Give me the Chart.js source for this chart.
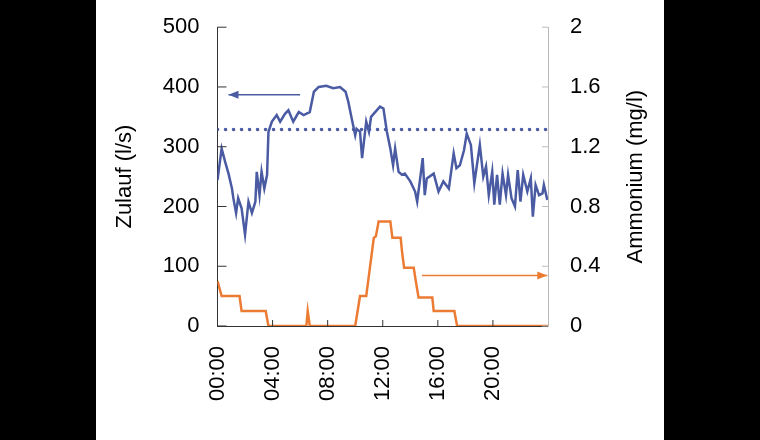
<!DOCTYPE html>
<html><head><script src="https://cdn.jsdelivr.net/npm/chart.js@4"></script>
<style>body{margin:0;background:#000;width:760px;height:440px;overflow:hidden}
#w{position:absolute;left:96px;top:0;width:568px;height:440px;background:#fff}</style></head>
<body><div id="w"><canvas id="c" width="568" height="440"></canvas></div>
<script>
const zulaufHours=[0,0.3,0.55,0.8,1.05,1.15,1.35,1.5,1.75,2,2.25,2.5,2.75,2.85,3.05,3.2,3.4,3.6,3.7,3.95,4.3,4.55,4.9,5.15,5.5,5.9,6.25,6.7,7,7.35,7.9,8.4,8.9,9.3,9.5,9.75,10,10.1,10.35,10.5,10.8,11,11.15,11.45,11.8,12.05,12.3,12.55,12.75,12.9,13.15,13.4,13.6,14,14.35,14.5,14.75,14.9,15.05,15.2,15.7,16.05,16.4,16.8,17.15,17.35,17.6,17.9,18.1,18.4,18.65,19.05,19.3,19.5,19.7,19.95,20.1,20.3,20.5,20.7,20.95,21.1,21.35,21.6,21.8,22,22.2,22.5,22.75,22.9,23.1,23.35,23.6,23.7,23.95];
const zulaufValues=[244,297,275,255,230,214,189,214,197,153,208,189,208,258,219,258,230,253,325,342,353,342,355,361,342,358,353,358,392,400,402,398,400,392,375,347,319,330,325,281,342,325,350,358,367,364,325,297,269,297,258,253,255,242,225,208,253,281,219,247,255,225,242,230,289,264,269,294,322,303,239,303,250,267,219,258,203,253,203,255,219,253,214,200,261,208,253,225,247,183,236,219,222,236,211];
const ammHours=[0,0.3,1.6,1.75,3.5,3.7,6.45,6.55,6.7,10,10.35,10.8,11.35,11.5,11.7,12.55,12.7,13.3,13.4,13.55,14.25,14.4,14.6,15.6,15.7,17.2,17.4,24];
const ammValues=[0.30,0.2,0.2,0.1,0.1,0,0,0.1,0,0,0.2,0.2,0.59,0.6,0.7,0.7,0.59,0.59,0.5,0.39,0.39,0.3,0.19,0.19,0.1,0.1,0,0];
const limitValue=329;
const xTicks=[0,4,8,12,16,20];
const blue='#4a5ba3', orange='#ec7b34';
const pts=(xs,ys)=>xs.map((x,i)=>({x,y:ys[i]}));
const font={family:'Liberation Sans, Arial',size:22};
const arrows={id:'arrows',afterDatasetsDraw(ch){const c=ch.ctx;
 ch.data.datasets.forEach((d,i)=>{if(!d.arrow)return;const m=ch.getDatasetMeta(i).data;const p=m[m.length-1],q=m[0];
 const a=Math.atan2(p.y-q.y,p.x-q.x);c.save();c.fillStyle=d.borderColor;c.beginPath();c.moveTo(p.x,p.y);
 c.lineTo(p.x-10*Math.cos(a)+4*Math.sin(a),p.y-10*Math.sin(a)-4*Math.cos(a));
 c.lineTo(p.x-10*Math.cos(a)-4*Math.sin(a),p.y-10*Math.sin(a)+4*Math.cos(a));c.fill();c.restore();});
 const a=ch.chartArea,s=ch.scales;c.save();c.lineWidth=1;
 c.strokeStyle='#333';s.y.ticks.forEach(t=>{const y=s.y.getPixelForValue(t.value);c.beginPath();c.moveTo(a.left,y);c.lineTo(a.left+9,y);c.stroke();});
 xTicks.forEach(t=>{const x=s.x.getPixelForValue(t);c.beginPath();c.moveTo(x,a.bottom);c.lineTo(x,a.bottom-6);c.stroke();});
 c.strokeStyle='#bbb';s.y2.ticks.forEach(t=>{const y=s.y2.getPixelForValue(t.value);c.beginPath();c.moveTo(a.right,y);c.lineTo(a.right-6,y);c.stroke();});
 // titles
 c.fillStyle='#000';c.font='22px "Liberation Sans", Arial';c.textAlign='center';c.textBaseline='middle';
 const cy=(a.top+a.bottom)/2;
 c.save();c.translate(125-96,cy);c.rotate(-Math.PI/2);c.fillText('Zulauf (l/s)',0,0);c.restore();
 c.save();c.translate(636-96,cy);c.rotate(-Math.PI/2);c.fillText('Ammonium (mg/l)',0,0);c.restore();
 c.restore();}};
new Chart(document.getElementById('c'),{type:'line',
data:{datasets:[
 {data:pts(zulaufHours,zulaufValues),borderColor:blue,borderWidth:2.5,pointRadius:0,yAxisID:'y',tension:0},
 {data:[{x:0,y:limitValue},{x:24,y:limitValue}],borderColor:blue,borderWidth:3.5,borderDash:[0.1,7.9],borderCapStyle:'round',pointRadius:0,yAxisID:'y'},
 {data:pts(ammHours,ammValues),borderColor:orange,borderWidth:2.5,pointRadius:0,yAxisID:'y2'},
 {data:[{x:6,y:387},{x:0.8,y:387}],borderColor:blue,borderWidth:1.5,pointRadius:0,yAxisID:'y',arrow:true},
 {data:[{x:14.85,y:0.338},{x:23.95,y:0.338}],borderColor:orange,borderWidth:1.5,pointRadius:0,yAxisID:'y2',arrow:true}
]},
options:{animation:false,responsive:false,layout:{padding:{top:26,left:0,right:0,bottom:0}},
plugins:{legend:{display:false},tooltip:{enabled:false}},
scales:{
 x:{type:'linear',min:0,max:24,afterBuildTicks(s){s.ticks=xTicks.map(v=>({value:v}));},
  afterFit(s){s.height=114;},grid:{display:false},border:{color:'#333'},
  ticks:{font,color:'#000',minRotation:90,maxRotation:90,padding:12,callback:v=>String(v).padStart(2,'0')+':00'}},
 y:{position:'left',min:0,max:500,afterFit(s){s.width=121.5;},grid:{display:false},border:{color:'#333'},
  ticks:{stepSize:100,font,color:'#000',padding:10}},
 y2:{position:'right',min:0,max:2,afterFit(s){s.width=116;},grid:{display:false},border:{color:'#bbb'},
  ticks:{stepSize:0.4,font,color:'#000',padding:14,callback:v=>v===0||v===2?String(v):v.toFixed(1)}}
}},plugins:[arrows]});
</script></body></html>
